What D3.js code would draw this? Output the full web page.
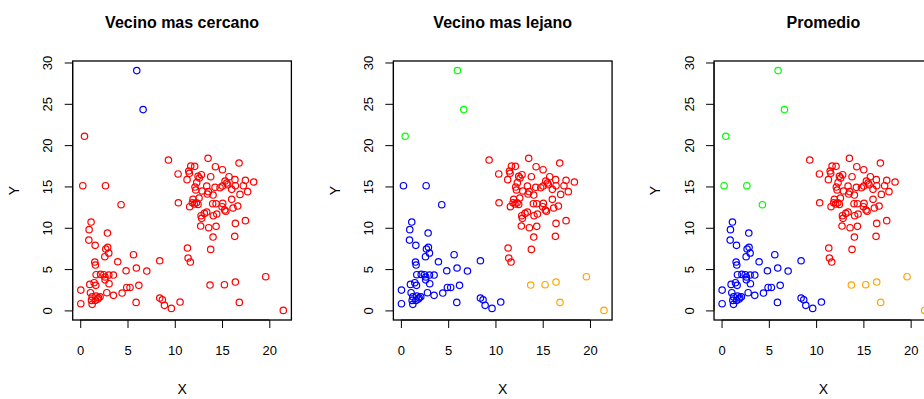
<!DOCTYPE html>
<html>
<head>
<meta charset="utf-8">
<script src="https://cdn.jsdelivr.net/npm/d3@7/dist/d3.min.js"></script>
<style>
  html, body { margin: 0; padding: 0; background: #fff; }
  svg { display: block; font-family: "Liberation Sans", Arial, sans-serif; }
</style>
</head>
<body>
<svg id="chart" width="924" height="399"></svg>
<script>
// Point groups (x, y pairs)
const topPts = [[5.98, 29.02], [6.65, 24.30]];
const farLeftPts = [[0.45, 21.07]];
const midPts = [[0.27, 15.09], [2.67, 15.09], [4.32, 12.79]];
const lowLeftPts = [
  [1.15, 10.69], [0.94, 9.77], [2.88, 9.36], [0.91, 8.51], [1.58, 7.87],
  [2.70, 7.43], [2.91, 7.63], [3.02, 6.94], [2.60, 6.50], [1.54, 5.85],
  [1.61, 5.49], [3.97, 5.89], [5.63, 6.74], [8.41, 6.01], [5.94, 5.13],
  [4.85, 4.80], [7.04, 4.76], [1.68, 4.32], [2.15, 4.36], [2.50, 4.32],
  [2.63, 4.04], [3.02, 4.28], [3.51, 4.28], [3.05, 3.23], [1.47, 3.35],
  [1.01, 3.15], [1.65, 3.03], [0.06, 2.46], [1.08, 2.14], [1.26, 1.65],
  [1.68, 1.74], [1.93, 1.53], [2.10, 1.65], [1.19, 1.21], [1.26, 0.73],
  [0.06, 0.81], [2.81, 2.14], [3.51, 1.82], [4.43, 2.10], [4.92, 2.78],
  [5.27, 2.78], [6.20, 3.03], [5.91, 0.97], [8.41, 1.49], [8.69, 1.29],
  [8.91, 0.61], [9.64, 0.24], [10.56, 1.01], [1.85, 1.37], [1.58, 1.21],
  [2.62, 3.70]
];
const upRightPts = [
  [11.34, 7.55], [11.41, 6.34], [11.65, 5.85], [13.80, 7.38], [14.05, 8.88],
  [16.34, 8.96], [13.59, 10.01], [14.37, 10.17], [12.74, 10.21], [16.41, 10.53],
  [17.47, 10.86], [10.38, 13.03], [9.33, 18.20], [13.52, 18.40], [16.80, 17.84],
  [14.30, 17.39], [15.04, 17.03], [10.35, 16.51], [11.30, 15.82], [11.48, 16.87],
  [11.69, 17.47], [12.11, 17.43], [11.55, 16.59], [12.46, 16.22], [12.81, 16.42],
  [12.60, 16.02], [12.32, 15.46], [13.80, 16.18], [12.14, 14.93], [12.22, 14.57],
  [13.38, 15.05], [13.56, 14.37], [12.89, 14.45], [13.45, 14.08], [14.05, 13.96],
  [14.26, 14.89], [14.79, 14.85], [15.04, 15.05], [15.32, 15.66], [15.60, 15.21],
  [15.74, 16.18], [16.37, 15.82], [16.41, 15.09], [16.02, 14.65], [17.25, 15.09],
  [17.47, 15.74], [18.35, 15.54], [17.71, 14.37], [16.90, 14.04], [16.02, 13.44],
  [16.66, 12.63], [16.16, 12.39], [15.07, 12.95], [14.37, 12.91], [14.01, 12.91],
  [15.00, 12.55], [15.28, 12.15], [15.40, 11.99], [11.58, 12.55], [11.86, 13.03],
  [12.07, 12.87], [12.29, 13.03], [12.46, 12.83], [12.57, 13.60], [11.93, 13.44],
  [12.78, 11.46], [12.85, 11.14], [13.13, 11.74], [13.38, 11.90], [14.08, 11.46],
  [14.44, 11.66], [15.50, 15.42]
];
const lowRightPts = [[13.73, 3.07], [15.25, 3.11], [16.41, 3.43], [19.62, 4.08], [16.83, 0.97], [21.48, 0.00]];

// Cluster colour of each group, per linkage method
const panelTitles = ["Vecino mas cercano", "Vecino mas lejano", "Promedio"];
const singleColors   = { top: "#0000FF", farLeft: "#FF0000", mid: "#FF0000", lowLeft: "#FF0000", upRight: "#FF0000", lowRight: "#FF0000" };
const completeColors = { top: "#00FF00", farLeft: "#00FF00", mid: "#0000FF", lowLeft: "#0000FF", upRight: "#FF0000", lowRight: "#FFA500" };
const averageColors  = { top: "#00FF00", farLeft: "#00FF00", mid: "#00FF00", lowLeft: "#0000FF", upRight: "#FF0000", lowRight: "#FFA500" };
const xTicks = [0, 5, 10, 15, 20];
const yTicks = [0, 5, 10, 15, 20, 25, 30];

const groups = { top: topPts, farLeft: farLeftPts, mid: midPts, lowLeft: lowLeftPts, upRight: upRightPts, lowRight: lowRightPts };
const points = [];
Object.entries(groups).forEach(([g, pts]) => pts.forEach(p => points.push({ x: p[0], y: p[1], g })));

const svg = d3.select("#chart");
svg.append("rect").attr("width", 924).attr("height", 399).attr("fill", "#fff");

const panelW = 320.67;
const box = { left: 72.7, right: 291.4, top: 61, bottom: 320 };

// R-style 4% padding of the data range
function padded(ext) { const d = (ext[1] - ext[0]) * 0.04; return [ext[0] - d, ext[1] + d]; }
const x = d3.scaleLinear().domain(padded(d3.extent(points, d => d.x))).range([box.left, box.right]);
const y = d3.scaleLinear().domain(padded(d3.extent(points, d => d.y))).range([box.bottom, box.top]);

[singleColors, completeColors, averageColors].forEach((colors, i) => {
  const g = svg.append("g").attr("transform", `translate(${i * panelW},0)`);

  // points
  g.append("g").selectAll("circle").data(points).join("circle")
    .attr("cx", d => x(d.x)).attr("cy", d => y(d.y)).attr("r", 3.2)
    .attr("fill", "none").attr("stroke", d => colors[d.g]).attr("stroke-width", 1.2);

  // box
  g.append("rect").attr("x", box.left).attr("y", box.top)
    .attr("width", box.right - box.left).attr("height", box.bottom - box.top)
    .attr("fill", "none").attr("stroke", "#000").attr("stroke-width", 1.3);

  // x axis
  const ax = g.append("g").attr("transform", `translate(0,${box.bottom})`)
    .call(d3.axisBottom(x).tickValues(xTicks).tickSize(8).tickSizeOuter(0).tickPadding(18));
  ax.select(".domain").attr("d", `M${x(xTicks[0])},0H${x(xTicks[xTicks.length - 1])}`);
  ax.selectAll("text").attr("font-size", 13).attr("font-family", null).attr("fill", "#000");
  ax.selectAll("line, path").attr("stroke", "#000");

  // y axis
  const ay = g.append("g").attr("transform", `translate(${box.left},0)`)
    .call(d3.axisLeft(y).tickValues(yTicks).tickSize(8).tickSizeOuter(0));
  ay.select(".domain").attr("d", `M0,${y(yTicks[0])}V${y(yTicks[yTicks.length - 1])}`);
  ay.selectAll("line, path").attr("stroke", "#000");
  ay.selectAll("text")
    .attr("x", null).attr("dy", null)
    .attr("font-size", 13).attr("font-family", null).attr("fill", "#000")
    .attr("text-anchor", "middle").attr("dominant-baseline", "central")
    .attr("transform", "translate(-25,0) rotate(-90)");

  // titles and axis labels
  const cx = (box.left + box.right) / 2;
  g.append("text").attr("x", cx).attr("y", 28).attr("text-anchor", "middle")
    .attr("font-size", 16).attr("font-weight", "bold").text(panelTitles[i]);
  g.append("text").attr("x", cx).attr("y", 394).attr("text-anchor", "middle")
    .attr("font-size", 14).text("X");
  g.append("text").attr("transform", `translate(19,${(box.top + box.bottom) / 2}) rotate(-90)`)
    .attr("text-anchor", "middle").attr("font-size", 14).text("Y");
});
</script>
</body>
</html>
